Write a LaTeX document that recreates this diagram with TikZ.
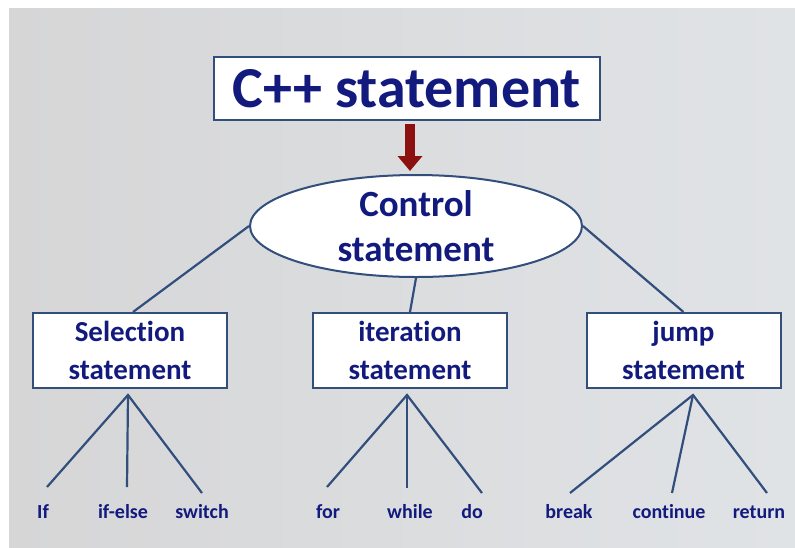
\documentclass[tikz,border=0pt]{standalone}
\usepackage{fontspec}
\setmainfont{Carlito}[Ligatures=NoCommon]
\usetikzlibrary{shapes.geometric,arrows.meta,calc}
\definecolor{navy}{RGB}{18,26,125}
\definecolor{edge}{RGB}{50,78,124}
\definecolor{arrowred}{RGB}{140,16,16}
\definecolor{bgleft}{RGB}{214,214,215}
\definecolor{bgright}{RGB}{224,227,230}
\tikzset{
  title/.style={draw=edge, line width=2.2pt, fill=white, inner sep=0pt,
    minimum width=386pt, minimum height=63pt, text=navy,
    font=\fontsize{58}{60}\selectfont\bfseries},
  oval/.style={ellipse, draw=edge, line width=2pt, fill=white, inner sep=0pt,
    minimum width=332pt, minimum height=102pt, text=navy, align=center,
    font=\fontsize{37}{45}\selectfont\bfseries},
  kind/.style={draw=edge, line width=2pt, fill=white, inner sep=0pt,
    minimum width=194pt, minimum height=75pt, text=navy, align=center,
    font=\fontsize{29}{38}\selectfont\bfseries},
  leaf/.style={text=navy, inner sep=0pt, font=\fontsize{20}{22}\selectfont\bfseries},
  link/.style={draw=edge, line width=2.2pt},
}
\begin{document}
\begin{tikzpicture}[x=1pt,y=-1pt]
  % page, white rim on top and left, grey panel
  \fill[white] (0,0) rectangle (795,547);
  \shade[left color=bgleft, right color=bgright] (9,8) rectangle (795,547);
  \useasboundingbox (0,0) rectangle (795,547);

  % main nodes
  \node[title] (top) at (407,88.5) {C++ statement};
  \node[oval] (ctl) at (416,226) {Control\\statement};
  \node[kind] (sel) at (130,350.5) {Selection\\statement};
  \node[kind] (itr) at (410,350.5) {iteration\\statement};
  \node[kind] (jmp) at (683.5,350.5) {jump\\statement};

  % arrow from the title into the oval
  \draw[draw=arrowred, line width=10pt,
        -{Triangle[width=24pt,length=15pt]}]
    ($(top.south)+(3,3)$) -- ($(ctl.north)+(-6,-3)$);

  % oval to the three kinds
  \draw[link] (ctl.west) -- ($(sel.north)+(3,0)$);
  \draw[link] (ctl.south) -- (itr.north);
  \draw[link] (ctl.east) -- (jmp.north);

  % branch points under the kinds
  \coordinate (selApex) at (128,395);
  \coordinate (itrApex) at (407,395);
  \coordinate (jmpApex) at (693,395);

  % leaf labels
  \node[leaf] (if)   at (43,512)  {If};
  \node[leaf] (ife)  at (123,512) {if-else};
  \node[leaf] (sw)   at (202,512) {switch};
  \node[leaf] (for)  at (328,512) {for};
  \node[leaf] (wh)   at (410,512) {while};
  \node[leaf] (do)   at (472,512) {do};
  \node[leaf] (brk)  at (569,512) {break};
  \node[leaf] (cont) at (669,512) {continue};
  \node[leaf] (ret)  at (759,512) {return};

  % line ends above the leaves
  \coordinate (ifEnd)   at (47,487);
  \coordinate (ifeEnd)  at (127,487);
  \coordinate (swEnd)   at (202,493);
  \coordinate (forEnd)  at (327,487);
  \coordinate (whEnd)   at (407,488);
  \coordinate (doEnd)   at (482,493);
  \coordinate (brkEnd)  at (570,493);
  \coordinate (contEnd) at (672,493);
  \coordinate (retEnd)  at (767,493);

  \draw[link] (ifEnd) -- (selApex) -- (swEnd);
  \draw[link] (selApex) -- (ifeEnd);
  \draw[link] (forEnd) -- (itrApex) -- (doEnd);
  \draw[link] (itrApex) -- (whEnd);
  \draw[link] (brkEnd) -- (jmpApex) -- (retEnd);
  \draw[link] (jmpApex) -- (contEnd);
\end{tikzpicture}
\end{document}
